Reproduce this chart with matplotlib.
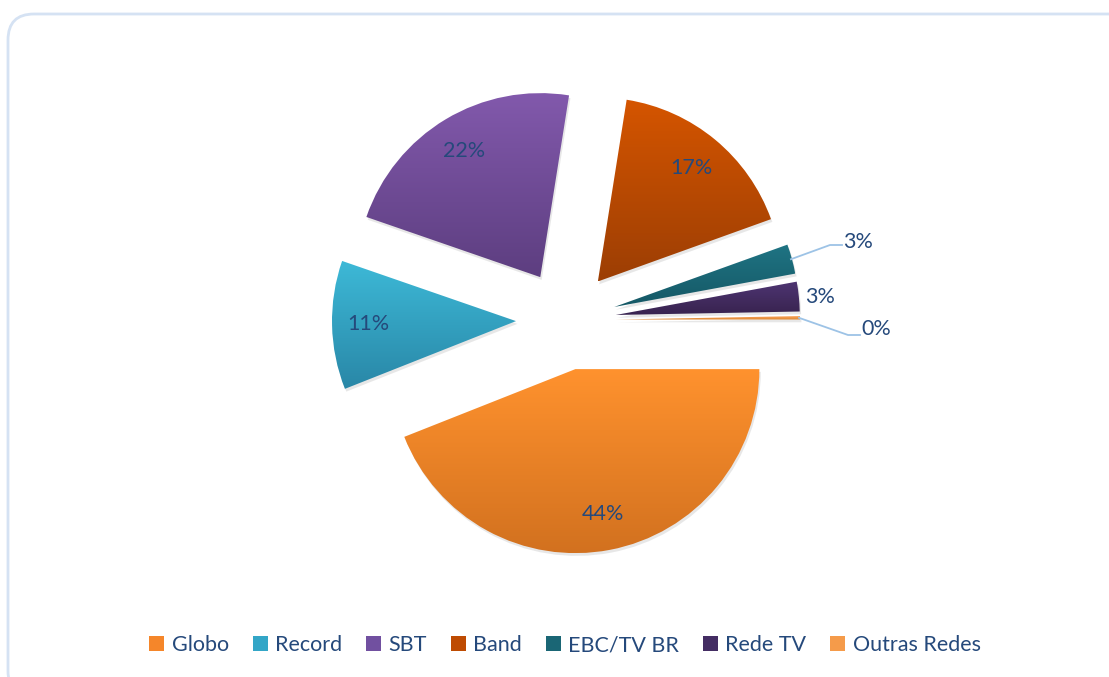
import numpy as np
import matplotlib
matplotlib.use("Agg")
import matplotlib.pyplot as plt
from matplotlib.patches import FancyBboxPatch, Patch
from matplotlib.colors import LinearSegmentedColormap
import matplotlib.patheffects as pe

# data
redes = ["Globo", "Record", "SBT", "Band", "EBC/TV BR", "Rede TV", "Outras Redes"]
share = [44.0, 11.3, 22.2, 17.0, 2.6, 2.6, 0.3]
# gradient colors (top, bottom) for each slice
top_colors = ["#FF922E", "#3DB9D7", "#8259AC", "#D55500", "#1F7484", "#4E3572", "#FBA257"]
bottom_colors = ["#D2711F", "#2987A7", "#5D3E80", "#9C3E04", "#155865", "#38234F", "#D98530"]
legend_colors = ["#F5862A", "#33A6C7", "#7150A0", "#BE4B02", "#1A6675", "#442D63", "#F59B4A"]

TEXT = "#25497B"
W, H = 1109, 677
FS = 15.5

plt.rcParams["font.family"] = ["Lato", "DejaVu Sans"]

fig = plt.figure(figsize=(W / 100, H / 100), dpi=100)
ax = fig.add_axes([0, 0, 1, 1])
ax.set_xlim(0, W)
ax.set_ylim(0, H)
ax.set_autoscale_on(False)
ax.axis("off")

# rounded frame around the chart area
frame = FancyBboxPatch((8, -20), W + 20, H - 14 + 20,
                       boxstyle="round,pad=0,rounding_size=26",
                       fc="white", ec="#D5E2F3", lw=2.0, zorder=0)
ax.add_patch(frame)

center = (566, 357)
radius = 184


def pct_label(p):
    return f"{p:.0f}%" if p >= 5 else ""


wedges, _, autotexts = ax.pie(
    share, startangle=0, counterclock=False, radius=radius, center=center,
    explode=[50] * len(share), autopct=pct_label, pctdistance=0.8,
    wedgeprops=dict(lw=0), textprops=dict(color=TEXT, fontsize=FS),
    frame=True,
)
ax.set_xlim(0, W)
ax.set_ylim(0, H)
ax.axis("off")

# gradient fill + soft shadow for every slice
for w, c1, c2 in zip(wedges, top_colors, bottom_colors):
    w.set_facecolor("none")
    w.set_path_effects([pe.SimplePatchShadow(offset=(1, -2), alpha=0.13),
                        pe.Normal()])
    w.set_zorder(1)
    bb = w.get_path().get_extents(w.get_patch_transform())
    cmap = LinearSegmentedColormap.from_list("g", [c2, c1])
    grad = np.linspace(0, 1, 256).reshape(-1, 1)
    im = ax.imshow(grad, cmap=cmap, origin="lower", aspect="auto",
                   extent=[bb.x0, bb.x1, bb.y0, bb.y1], zorder=2,
                   interpolation="bilinear")
    im.set_clip_path(w)
for t in autotexts:
    t.set_zorder(5)


def outer_point(w, extra=0):
    th = np.deg2rad((w.theta1 + w.theta2) / 2)
    return (w.center[0] + (w.r + extra) * np.cos(th),
            w.center[1] + (w.r + extra) * np.sin(th))


lead = "#9DC3E6"
# EBC/TV BR label with leader line
p = outer_point(wedges[4], -1)
ax.plot([p[0], 830, 842], [p[1], 432, 432], color=lead, lw=1.3, zorder=3)
ax.text(843, 435, f"{share[4]:.0f}%", color=TEXT, fontsize=FS, va="center", ha="left")
# Rede TV label next to slice
p = outer_point(wedges[5])
ax.text(p[0] + 6, p[1], f"{share[5]:.0f}%", color=TEXT, fontsize=FS, va="center", ha="left")
# Outras Redes label with leader line
p = outer_point(wedges[6], -1)
ax.plot([p[0], 848, 860], [p[1], 342, 342], color=lead, lw=1.3, zorder=3)
ax.text(861, 348, f"{share[6]:.0f}%", color=TEXT, fontsize=FS, va="center", ha="left")

handles = [Patch(facecolor=c, edgecolor="none") for c in legend_colors]
leg = ax.legend(handles, redes, loc="center", bbox_to_anchor=(565 / W, 1 - 645 / H),
                bbox_transform=fig.transFigure, ncol=7, frameon=False, fontsize=FS,
                handlelength=0.7, handleheight=0.7, handletextpad=0.35,
                columnspacing=1.1, labelcolor=TEXT)

fig.savefig("out.png", dpi=100)
